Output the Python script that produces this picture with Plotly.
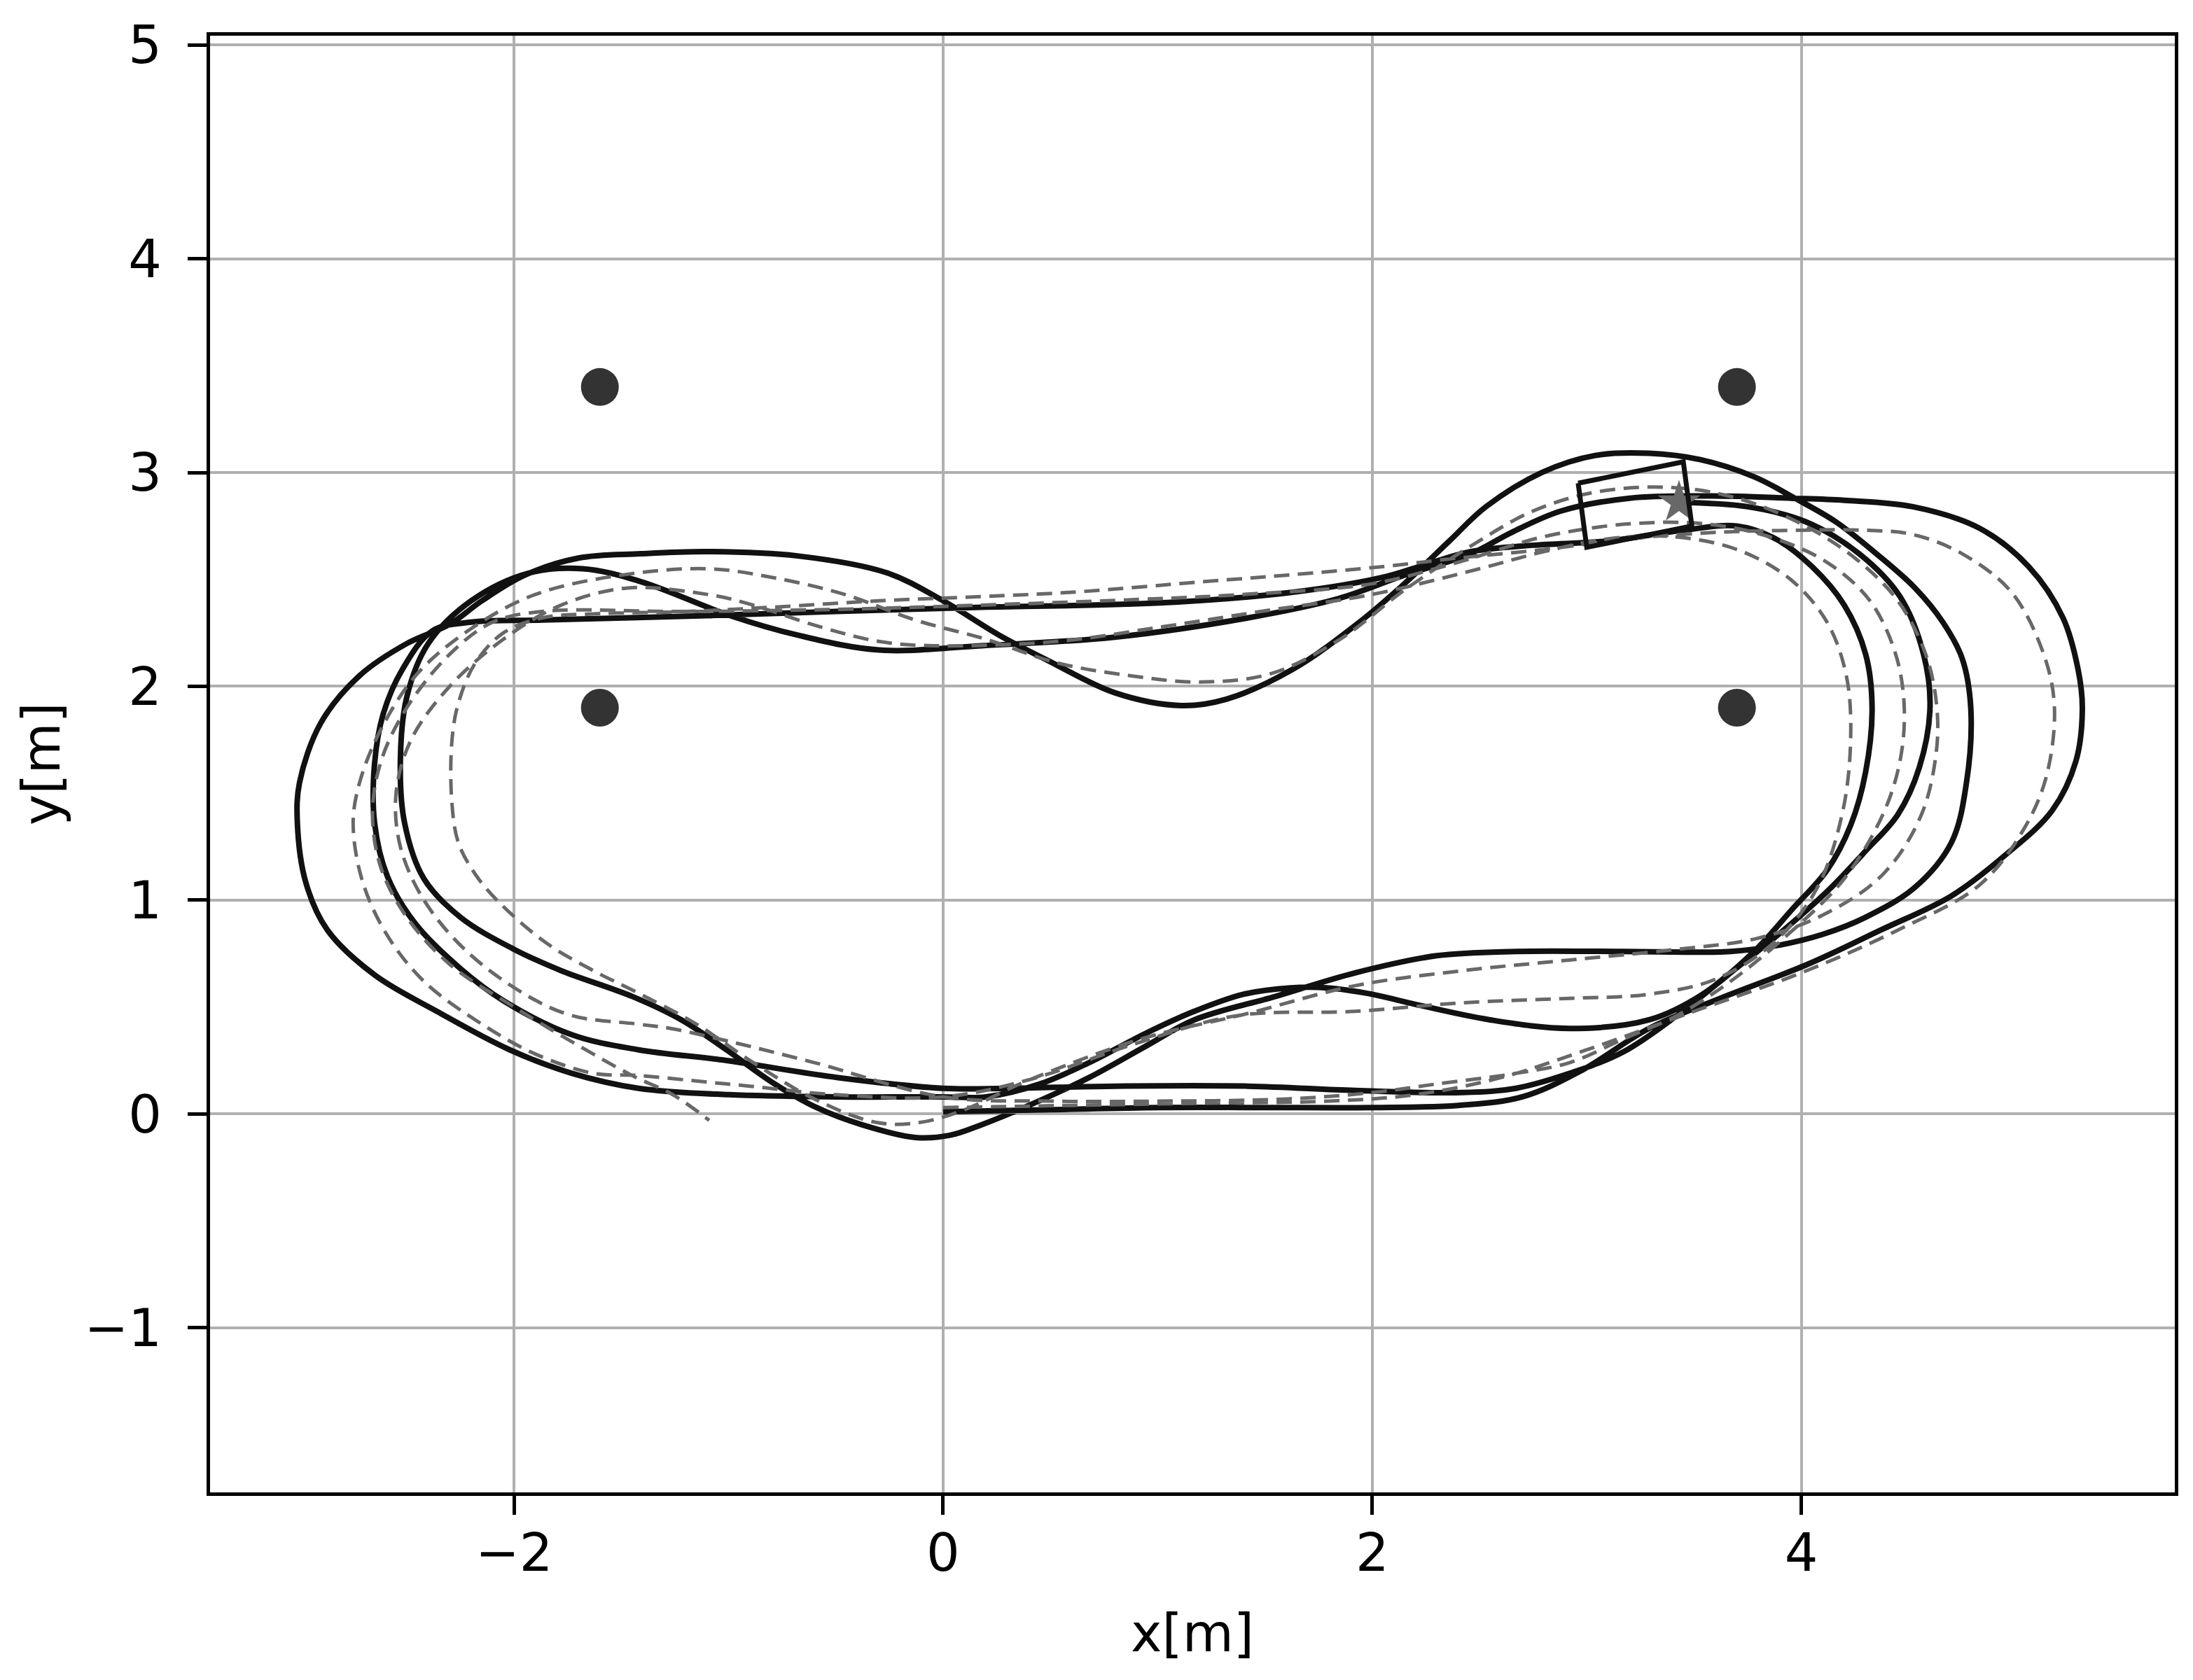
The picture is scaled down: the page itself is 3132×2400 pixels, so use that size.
import plotly.graph_objects as go

# ---------------- data ----------------
# Driven trajectory (solid), four laps, counter-clockwise, starting at (0, 0)
lap1 = [(0.00, 0.01), (0.5, 0.02), (1.0, 0.03), (1.5, 0.03), (2.0, 0.03), (2.4, 0.04), (2.7, 0.08),
        (2.97, 0.20), (3.29, 0.40), (3.62, 0.54), (4.03, 0.70), (4.37, 0.86), (4.70, 1.02), (4.95, 1.21),
        (5.17, 1.42), (5.28, 1.65), (5.31, 1.90), (5.29, 2.08), (5.22, 2.32), (5.06, 2.56), (4.83, 2.74),
        (4.52, 2.84), (4.20, 2.87), (3.95, 2.88), (3.58, 2.89), (3.20, 2.88), (2.88, 2.82), (2.65, 2.72),
        (2.46, 2.62), (2.15, 2.52), (1.84, 2.41), (1.42, 2.32), (0.80, 2.23), (0.18, 2.19), (-0.30, 2.17),
        (-0.68, 2.24), (-0.99, 2.33), (-1.41, 2.49), (-1.68, 2.55), (-1.93, 2.53), (-2.20, 2.40),
        (-2.40, 2.20), (-2.50, 1.95), (-2.53, 1.65), (-2.51, 1.36), (-2.42, 1.10), (-2.25, 0.92),
        (-2.00, 0.77), (-1.78, 0.67), (-1.45, 0.55), (-1.22, 0.44), (-1.01, 0.30), (-0.80, 0.15),
        (-0.59, 0.03), (-0.38, -0.05), (-0.13, -0.11), (0.03, -0.10), (0.18, -0.05)]
lap2 = [(0.40, 0.04), (0.68, 0.17), (0.95, 0.32), (1.17, 0.44), (1.55, 0.55), (1.92, 0.66), (2.30, 0.74),
        (2.67, 0.76), (3.17, 0.76), (3.67, 0.76), (3.90, 0.79), (4.10, 0.84), (4.30, 0.92), (4.53, 1.06),
        (4.70, 1.27), (4.77, 1.55), (4.79, 1.90), (4.75, 2.13), (4.66, 2.30), (4.53, 2.46), (4.35, 2.62),
        (4.16, 2.77), (3.97, 2.88), (3.78, 2.98), (3.53, 3.06), (3.29, 3.09), (3.04, 3.08), (2.79, 3.00),
        (2.53, 2.84), (2.36, 2.68), (2.15, 2.48), (1.94, 2.30), (1.63, 2.08), (1.32, 1.94), (1.11, 1.91),
        (0.80, 1.97), (0.49, 2.12), (0.26, 2.24), (0.00, 2.40), (-0.26, 2.53), (-0.68, 2.61), (-1.10, 2.63),
        (-1.41, 2.62), (-1.70, 2.60), (-1.95, 2.52), (-2.15, 2.40), (-2.30, 2.29), (-2.50, 2.20),
        (-2.72, 2.05), (-2.90, 1.83), (-3.00, 1.55), (-3.01, 1.36), (-2.97, 1.08), (-2.87, 0.86),
        (-2.65, 0.65), (-2.36, 0.48), (-2.02, 0.30), (-1.73, 0.19), (-1.42, 0.12), (-1.00, 0.09),
        (-0.50, 0.08), (0.00, 0.08), (0.20, 0.08)]
lap3 = [(0.45, 0.14), (0.68, 0.24), (0.95, 0.38), (1.17, 0.48), (1.40, 0.56), (1.62, 0.59), (1.79, 0.59),
        (2.00, 0.56), (2.17, 0.52), (2.55, 0.44), (2.92, 0.40), (3.29, 0.44), (3.54, 0.56), (3.78, 0.76),
        (3.96, 0.96), (4.12, 1.14), (4.23, 1.35), (4.30, 1.60), (4.33, 1.90), (4.30, 2.15), (4.20, 2.38),
        (4.05, 2.56), (3.88, 2.69), (3.70, 2.75), (3.45, 2.73), (3.10, 2.68), (2.75, 2.66), (2.46, 2.63),
        (2.25, 2.57), (2.05, 2.51), (1.63, 2.44), (1.01, 2.39), (0.18, 2.37), (-0.50, 2.35), (-1.13, 2.33),
        (-1.87, 2.31), (-2.20, 2.30), (-2.38, 2.26), (-2.52, 2.08), (-2.61, 1.87), (-2.65, 1.64),
        (-2.65, 1.36), (-2.59, 1.11), (-2.46, 0.89), (-2.25, 0.68), (-2.05, 0.53), (-1.73, 0.37),
        (-1.42, 0.30), (-1.01, 0.25), (-0.49, 0.17), (0.00, 0.12)]
lap4 = [(0.30, 0.12), (0.80, 0.13), (1.42, 0.13), (1.92, 0.11), (2.42, 0.10), (2.67, 0.12), (2.92, 0.19),
        (3.17, 0.29), (3.42, 0.46), (3.67, 0.66), (3.93, 0.87), (4.13, 1.05), (4.30, 1.23), (4.45, 1.40),
        (4.55, 1.62), (4.60, 1.90), (4.57, 2.15), (4.46, 2.42), (4.27, 2.62), (4.02, 2.77), (3.75, 2.84),
        (3.43, 2.86)]

# Reference path (dashed), four laps
ref1 = [(0.00, 0.03), (0.6, 0.04), (1.2, 0.05), (1.8, 0.06), (2.2, 0.09), (2.6, 0.17), (3.0, 0.30),
        (3.5, 0.48), (4.0, 0.66), (4.45, 0.86), (4.83, 1.07), (5.03, 1.32), (5.14, 1.57), (5.18, 1.90),
        (5.13, 2.15), (4.98, 2.44), (4.75, 2.62), (4.52, 2.71), (4.30, 2.73), (4.00, 2.73), (3.60, 2.72),
        (3.20, 2.69), (2.80, 2.64), (2.40, 2.60), (2.05, 2.56), (1.60, 2.52), (1.22, 2.49), (0.60, 2.44),
        (0.18, 2.42), (-0.30, 2.40), (-0.80, 2.37), (-1.20, 2.35), (-1.60, 2.34), (-1.87, 2.32),
        (-2.05, 2.25), (-2.18, 2.11), (-2.26, 1.92), (-2.29, 1.74), (-2.29, 1.46), (-2.26, 1.27),
        (-2.18, 1.12), (-2.07, 0.99), (-1.85, 0.80), (-1.63, 0.67), (-1.41, 0.56), (-1.15, 0.42),
        (-0.90, 0.25), (-0.60, 0.07), (-0.31, -0.04), (-0.11, -0.04), (0.10, 0.02)]
ref2 = [(0.38, 0.15), (0.92, 0.35), (1.42, 0.47), (1.92, 0.60), (2.42, 0.67), (2.92, 0.72), (3.42, 0.77),
        (3.79, 0.82), (4.10, 0.93), (4.38, 1.12), (4.56, 1.40), (4.63, 1.70), (4.63, 1.92), (4.58, 2.15),
        (4.45, 2.40), (4.25, 2.60), (4.00, 2.76), (3.70, 2.88), (3.40, 2.93), (3.05, 2.91), (2.75, 2.82),
        (2.45, 2.65), (2.15, 2.45), (1.85, 2.22), (1.53, 2.06), (1.20, 2.02), (0.87, 2.05), (0.53, 2.11),
        (0.20, 2.22), (-0.13, 2.31), (-0.46, 2.43), (-0.80, 2.51), (-1.10, 2.55), (-1.50, 2.52),
        (-1.90, 2.43), (-2.20, 2.27), (-2.45, 2.06), (-2.62, 1.80), (-2.72, 1.55), (-2.75, 1.36),
        (-2.71, 1.10), (-2.60, 0.85), (-2.42, 0.62), (-2.15, 0.42), (-1.90, 0.28), (-1.63, 0.19),
        (-1.42, 0.18), (-1.11, 0.15), (-0.90, 0.13), (-0.50, 0.09), (0.00, 0.08)]
ref3 = [(0.40, 0.16), (0.90, 0.33), (1.37, 0.46), (1.92, 0.48), (2.42, 0.52), (2.90, 0.54), (3.29, 0.56),
        (3.60, 0.63), (3.87, 0.80), (4.07, 1.05), (4.19, 1.40), (4.23, 1.75), (4.21, 2.05), (4.12, 2.30),
        (3.95, 2.50), (3.70, 2.64), (3.40, 2.70), (3.10, 2.69), (2.80, 2.63), (2.50, 2.55), (2.00, 2.43),
        (1.48, 2.35), (1.03, 2.28), (0.53, 2.21), (-0.05, 2.19), (-0.30, 2.21), (-0.58, 2.28),
        (-0.92, 2.39), (-1.10, 2.43), (-1.47, 2.46), (-1.78, 2.38), (-2.05, 2.22), (-2.30, 2.00),
        (-2.48, 1.75), (-2.55, 1.50), (-2.53, 1.25), (-2.42, 1.00), (-2.22, 0.76), (-1.95, 0.56),
        (-1.73, 0.46), (-1.42, 0.42), (-1.27, 0.40), (-1.00, 0.34), (-0.60, 0.24), (0.00, 0.08),
        (0.50, 0.06)]
ref4 = [(1.00, 0.06), (1.60, 0.07), (2.00, 0.10), (2.30, 0.14), (2.67, 0.19), (2.92, 0.24), (3.17, 0.35),
        (3.42, 0.46), (3.67, 0.62), (3.95, 0.85), (4.20, 1.10), (4.38, 1.40), (4.46, 1.65), (4.48, 1.90),
        (4.44, 2.15), (4.32, 2.40), (4.12, 2.58), (3.85, 2.70), (3.55, 2.76), (3.20, 2.76), (2.80, 2.70),
        (2.40, 2.58), (2.00, 2.48), (1.40, 2.43), (1.00, 2.41), (0.18, 2.38), (-0.50, 2.36), (-1.20, 2.35),
        (-1.87, 2.35), (-2.10, 2.30), (-2.30, 2.15), (-2.50, 1.90), (-2.62, 1.65), (-2.66, 1.40),
        (-2.62, 1.15), (-2.50, 0.92), (-2.30, 0.70), (-2.00, 0.50), (-1.70, 0.32), (-1.45, 0.18),
        (-1.26, 0.09), (-1.09, -0.03)]

# Obstacles
obstacle_x = [-1.6, 3.7, -1.6, 3.7]
obstacle_y = [3.4, 3.4, 1.9, 1.9]

# Vehicle outline (corners) and goal star
vehicle_x = [2.96, 3.45, 3.49, 3.00, 2.96]
vehicle_y = [2.95, 3.05, 2.75, 2.65, 2.95]
goal_x = [3.43]
goal_y = [2.86]

x_tick_vals = [-2, 0, 2, 4]
x_tick_text = ["\u22122", "0", "2", "4"]
y_tick_vals = [-1, 0, 1, 2, 3, 4, 5]
y_tick_text = ["\u22121", "0", "1", "2", "3", "4", "5"]

# ---------------- figure ----------------
solid = lap1 + lap2 + lap3 + lap4
ref = ref1 + ref2 + ref3 + ref4

fig = go.Figure()
fig.add_trace(go.Scatter(x=[p[0] for p in solid], y=[p[1] for p in solid], mode="lines",
                         line=dict(color="#111111", width=8, shape="spline", smoothing=1.0),
                         hoverinfo="skip", showlegend=False))
fig.add_trace(go.Scatter(x=[p[0] for p in ref], y=[p[1] for p in ref], mode="lines",
                         line=dict(color="#686868", width=5, dash="22px,12px", shape="spline", smoothing=1.0),
                         hoverinfo="skip", showlegend=False))
fig.add_trace(go.Scatter(x=obstacle_x, y=obstacle_y, mode="markers",
                         marker=dict(color="#333333", size=54, line=dict(width=0)),
                         hoverinfo="skip", showlegend=False))
fig.add_trace(go.Scatter(x=goal_x, y=goal_y, mode="markers",
                         marker=dict(symbol="star", color="#686868", size=46, line=dict(width=0)),
                         hoverinfo="skip", showlegend=False))
fig.add_trace(go.Scatter(x=vehicle_x, y=vehicle_y, mode="lines",
                         line=dict(color="#111111", width=7),
                         hoverinfo="skip", showlegend=False))

axis_common = dict(showgrid=True, gridcolor="#b0b0b0", gridwidth=3.5, zeroline=False,
                   showline=True, linecolor="black", linewidth=5, mirror=True,
                   ticks="outside", ticklen=27, tickwidth=5, tickcolor="black",
                   tickfont=dict(family="DejaVu Sans", size=75, color="black"))

fig.update_xaxes(range=[-3.417, 5.741], tickvals=x_tick_vals, ticktext=x_tick_text,
                 ticklabelstandoff=-10, **axis_common)
fig.update_yaxes(range=[-1.770, 5.043], tickvals=y_tick_vals, ticktext=y_tick_text,
                 ticklabelstandoff=22, **axis_common)

fig.add_annotation(text="x[m]", xref="paper", yref="paper", x=0.5, y=-0.0964,
                   xanchor="center", yanchor="middle", showarrow=False,
                   font=dict(family="DejaVu Sans", size=75, color="black"))
fig.add_annotation(text="y[m]", xref="paper", yref="paper", x=-0.086, y=0.5,
                   xanchor="center", yanchor="middle", showarrow=False, textangle=-90,
                   font=dict(family="DejaVu Sans", size=75, color="black"))

# the page adds an 8px body margin, so the plot box is placed 8px up/left to compensate
fig.update_layout(width=3132, height=2400, plot_bgcolor="white", paper_bgcolor="white",
                  margin=dict(l=292, r=34, t=39, b=276), showlegend=False)

fig.write_html("out.html")
